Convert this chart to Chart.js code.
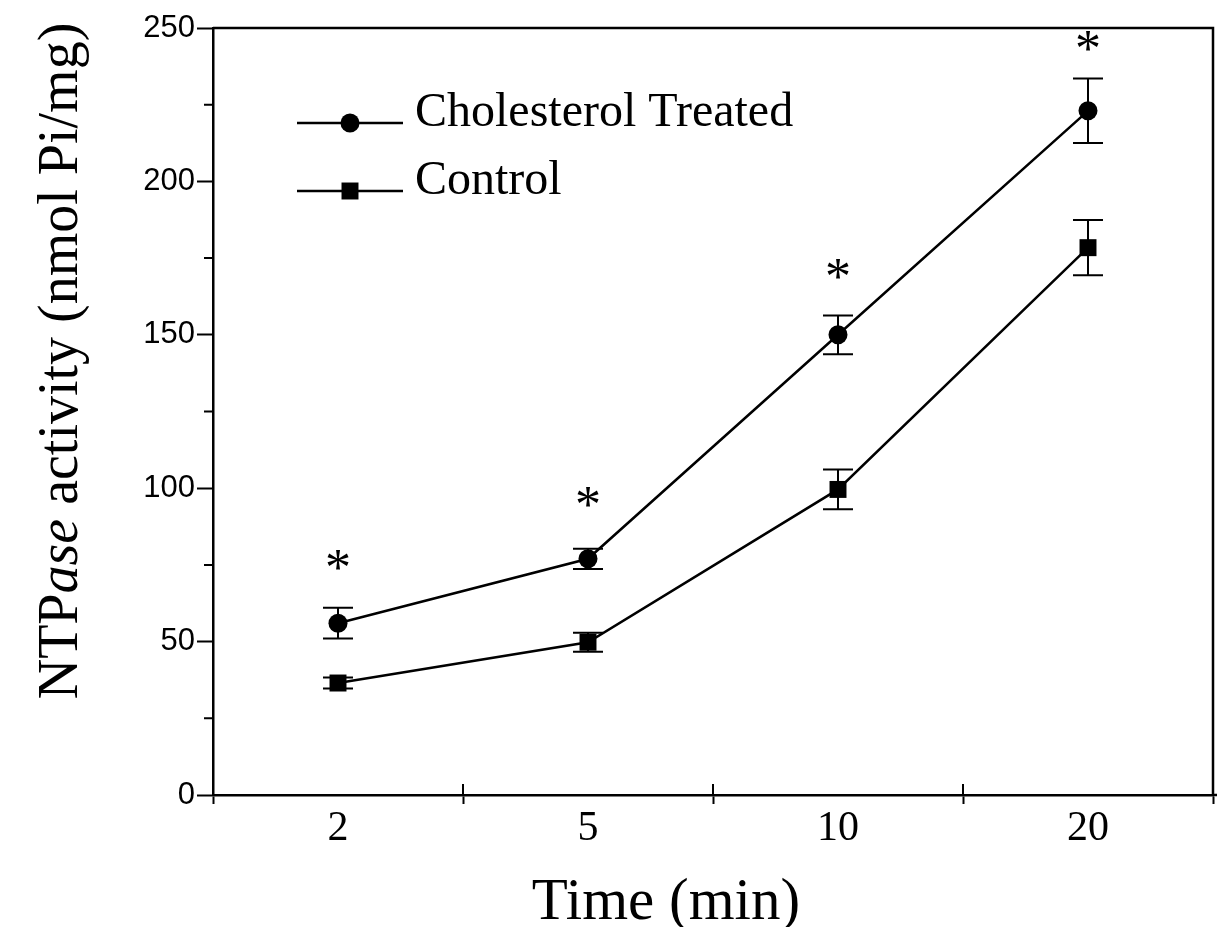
<!DOCTYPE html>
<html>
<head>
<meta charset="utf-8">
<script src="https://cdn.jsdelivr.net/npm/chart.js@4/dist/chart.umd.min.js"></script>
<style>
  html, body { margin: 0; padding: 0; background: #fff; }
  canvas { display: block; }
</style>
</head>
<body>
<canvas id="ntpase" width="1217" height="927"></canvas>
<script>
// values
var timeLabels = ['2', '5', '10', '20'];
var cholMean = [56, 77, 150, 223];
var cholErr = [5, 3.3, 6.3, 10.5];
var ctrlMean = [36.5, 49.8, 99.6, 178.4];
var ctrlErr = [1.8, 3.1, 6.5, 9];
var starAt = [76.5, 97, 171.5, 245.8];
var yMinorTicks = [25, 75, 125, 175, 225];

var serif = "'Liberation Serif', 'Times New Roman', serif";
var sans = "'Liberation Sans', Arial, sans-serif";

var extras = {
    id: 'extras',
    beforeDatasetsDraw: function (chart) {
        var ctx = chart.ctx, x = chart.scales.x, y = chart.scales.y;
        var sets = [[cholMean, cholErr], [ctrlMean, ctrlErr]];
        ctx.save();
        ctx.strokeStyle = '#000';
        ctx.lineWidth = 2;
        sets.forEach(function (s) {
            s[0].forEach(function (v, i) {
                var px = x.getPixelForValue(i);
                var top = y.getPixelForValue(v + s[1][i]);
                var bot = y.getPixelForValue(v - s[1][i]);
                ctx.beginPath();
                ctx.moveTo(px, top); ctx.lineTo(px, bot);
                ctx.moveTo(px - 15, top); ctx.lineTo(px + 15, top);
                ctx.moveTo(px - 15, bot); ctx.lineTo(px + 15, bot);
                ctx.stroke();
            });
        });
        ctx.restore();
    },
    afterDraw: function (chart) {
        var ctx = chart.ctx, a = chart.chartArea, x = chart.scales.x, y = chart.scales.y;
        ctx.save();
        ctx.strokeStyle = '#000';
        ctx.fillStyle = '#000';

        // top and right frame, axis runs on to the edge
        ctx.lineWidth = 2.5;
        ctx.beginPath();
        ctx.moveTo(a.left, a.top); ctx.lineTo(a.right, a.top); ctx.lineTo(a.right, a.bottom);
        ctx.moveTo(a.right, a.bottom); ctx.lineTo(chart.width, a.bottom);
        ctx.stroke();

        // minor y ticks and inward x ticks
        ctx.lineWidth = 2;
        ctx.beginPath();
        yMinorTicks.forEach(function (v) {
            var py = y.getPixelForValue(v);
            ctx.moveTo(a.left - 9, py); ctx.lineTo(a.left, py);
        });
        for (var i = 0; i < timeLabels.length - 1; i++) {
            var bx = (x.getPixelForValue(i) + x.getPixelForValue(i + 1)) / 2;
            ctx.moveTo(bx, a.bottom); ctx.lineTo(bx, a.bottom - 11);
        }
        ctx.stroke();

        // significance marks
        ctx.font = '52px ' + serif;
        ctx.textAlign = 'center';
        ctx.textBaseline = 'alphabetic';
        starAt.forEach(function (v, i) {
            ctx.fillText('*', x.getPixelForValue(i), y.getPixelForValue(v) + 25);
        });

        // legend
        var rows = [[chart.data.datasets[0], 123], [chart.data.datasets[1], 191]];
        rows.forEach(function (r) {
            var ds = r[0], ly = r[1];
            ctx.lineWidth = 2.5;
            ctx.beginPath();
            ctx.moveTo(297, ly); ctx.lineTo(403, ly);
            ctx.stroke();
            Chart.helpers.drawPoint(ctx, { pointStyle: ds.pointStyle, radius: ds.pointRadius, borderWidth: 0 }, 350, ly);
            ctx.font = '48px ' + serif;
            ctx.textAlign = 'left';
            ctx.fillText(ds.label, 415, ly + 3);
        });

        // axis titles
        ctx.font = '59px ' + serif;
        ctx.textAlign = 'center';
        ctx.fillText('Time (min)', 666, 919);

        var parts = [['NTP', ''], ['ase', 'italic '], [' activity (nmol Pi/mg)', '']];
        var total = 0;
        parts.forEach(function (p) {
            ctx.font = p[1] + '56px ' + serif;
            p.push(ctx.measureText(p[0]).width);
            total += p[2];
        });
        ctx.translate(77, 361);
        ctx.rotate(-Math.PI / 2);
        ctx.textAlign = 'left';
        var cx = -total / 2;
        parts.forEach(function (p) {
            ctx.font = p[1] + '56px ' + serif;
            ctx.fillText(p[0], cx, 0);
            cx += p[2];
        });
        ctx.restore();
    }
};

var chart = new Chart('ntpase', {
    type: 'line',
    data: {
        labels: timeLabels,
        datasets: [{
            label: 'Cholesterol Treated',
            data: cholMean,
            borderColor: '#000',
            backgroundColor: '#000',
            borderWidth: 2.5,
            pointStyle: 'circle',
            pointRadius: 9.5,
            pointBorderWidth: 0,
            fill: false
        }, {
            label: 'Control',
            data: ctrlMean,
            borderColor: '#000',
            backgroundColor: '#000',
            borderWidth: 2.5,
            pointStyle: 'rect',
            pointRadius: 12,
            pointBorderWidth: 0,
            fill: false
        }]
    },
    options: {
        responsive: false,
        animation: false,
        devicePixelRatio: 1,
        layout: { autoPadding: false, padding: { top: 28, right: 4, left: 0, bottom: 0 } },
        plugins: {
            legend: { display: false },
            tooltip: { enabled: false }
        },
        scales: {
            x: {
                type: 'category',
                offset: true,
                grid: { offset: true, drawOnChartArea: false, tickLength: 9, tickWidth: 2, tickColor: '#000' },
                border: { color: '#000', width: 2.5 },
                ticks: { color: '#000', font: { family: serif, size: 42 }, padding: 0, maxRotation: 0 },
                afterFit: function (s) { s.height = 132; s.paddingLeft = 0; s.paddingRight = 0; }
            },
            y: {
                min: 0,
                max: 250,
                grid: { drawOnChartArea: false, tickLength: 16, tickWidth: 2, tickColor: '#000' },
                border: { color: '#000', width: 2.5 },
                ticks: { stepSize: 50, color: '#000', font: { family: sans, size: 31 }, padding: 2 },
                afterFit: function (s) { s.width = 213; }
            }
        }
    },
    plugins: [extras]
});
</script>
</body>
</html>
